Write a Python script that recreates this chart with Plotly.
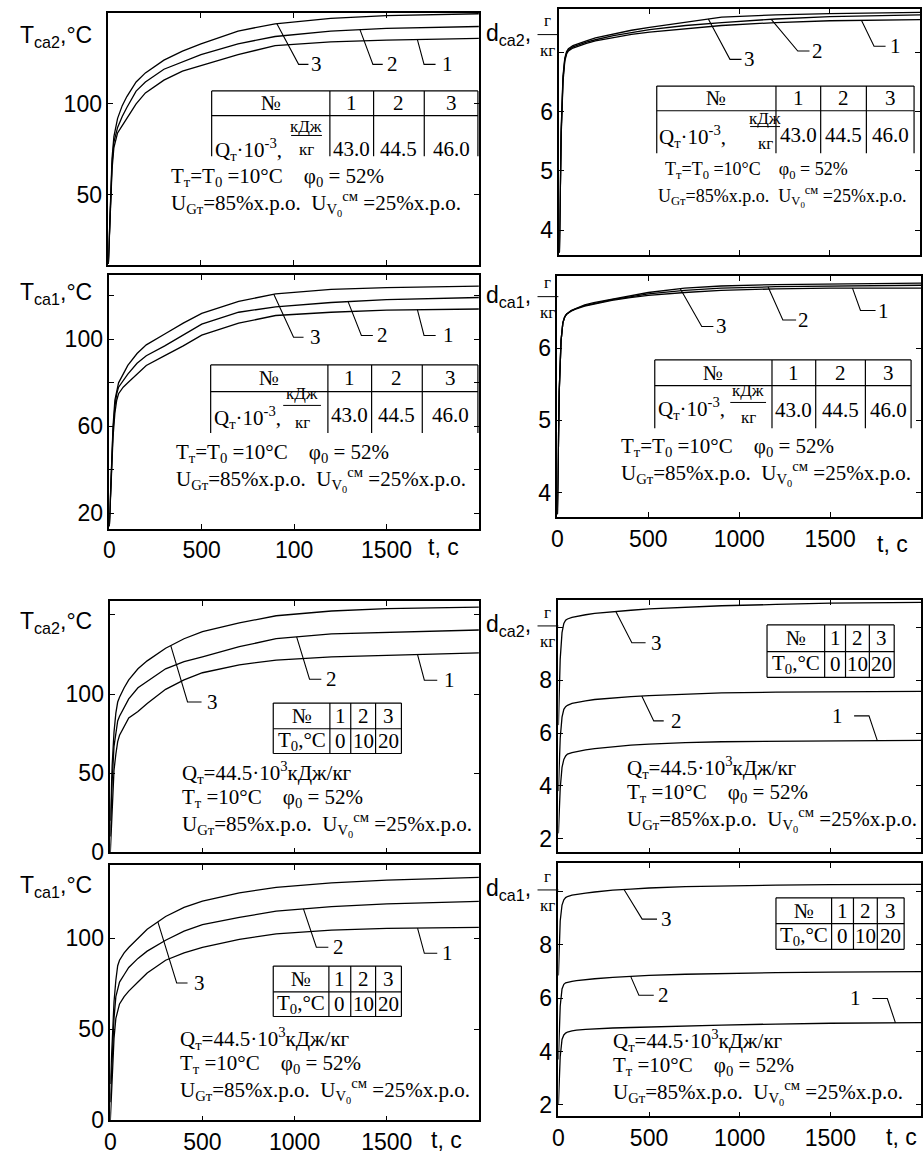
import numpy as np
import plotly.graph_objects as go

W, H = 924, 1164
SERIF = "Liberation Serif"
SANS = "Liberation Sans"
NB = "\u00a0"

# ---------------- data ----------------
T = [0, 5, 10, 20, 30, 40, 50, 75, 100, 150, 200, 300, 400, 500, 700, 900, 1200, 1500, 2000]

# Panel A: T_ca2, Q varied
tca2_q1 = [12, 25, 40, 64, 76, 81, 84, 88, 92, 100, 106, 113, 118, 121, 127, 132, 134, 135, 136]
tca2_q2 = [12, 26, 42, 67, 79, 84, 87, 93, 98, 107, 112, 119, 123, 127, 133, 137, 140, 141.5, 142.5]
tca2_q3 = [12, 27, 44, 70, 82, 88, 92, 99, 104, 112, 117, 124, 129, 133, 140, 144, 147, 148.5, 149.5]
# Panel B: d_ca2, Q varied
dca2_q1 = [3.62, 4.6, 5.6, 6.5, 6.85, 6.97, 7.02, 7.07, 7.10, 7.15, 7.19, 7.25, 7.30, 7.34, 7.40, 7.45, 7.50, 7.53, 7.55]
dca2_q2 = [3.62, 4.6, 5.65, 6.55, 6.88, 6.99, 7.04, 7.09, 7.12, 7.17, 7.21, 7.28, 7.33, 7.38, 7.45, 7.50, 7.56, 7.60, 7.63]
dca2_q3 = [3.62, 4.65, 5.7, 6.6, 6.9, 7.01, 7.06, 7.11, 7.14, 7.19, 7.24, 7.31, 7.37, 7.42, 7.51, 7.59, 7.63, 7.65, 7.67]
# Panel C: T_ca1, Q varied
tca1_q1 = [14, 25, 38, 55, 66, 72, 75, 78, 80, 84, 88, 92.5, 97, 102, 107.5, 111, 112.5, 113.5, 114]
tca1_q2 = [14, 26, 40, 58, 69, 75, 78, 81, 84, 89, 92.5, 97, 102, 107, 112.5, 115, 117, 118.3, 119.3]
tca1_q3 = [14, 27, 42, 60, 72, 77, 80, 84, 88, 93.5, 97.5, 102.5, 107.5, 112, 117.5, 121, 123, 123.8, 124.5]
# Panel D: d_ca1, Q varied
dca1_q1 = [3.7, 4.5, 5.4, 6.1, 6.35, 6.43, 6.47, 6.51, 6.54, 6.58, 6.61, 6.66, 6.70, 6.73, 6.77, 6.80, 6.82, 6.83, 6.83]
dca1_q2 = [3.7, 4.5, 5.4, 6.1, 6.35, 6.43, 6.47, 6.515, 6.545, 6.59, 6.62, 6.67, 6.71, 6.75, 6.80, 6.83, 6.85, 6.86, 6.87]
dca1_q3 = [3.7, 4.5, 5.4, 6.1, 6.35, 6.43, 6.47, 6.52, 6.55, 6.60, 6.63, 6.68, 6.73, 6.77, 6.83, 6.86, 6.88, 6.89, 6.90]
# Panel E: T_ca2, T0 varied
tca2_t1 = [0, 15, 30, 52, 62, 70, 74, 80, 85, 89, 94, 103, 109, 113.5, 118.5, 121.5, 123.5, 124.5, 126]
tca2_t2 = [10, 28, 45, 67, 77, 83, 86, 92, 97, 104, 108, 116, 120.5, 123.5, 130, 135, 138, 139, 140.5]
tca2_t3 = [20, 40, 55, 76, 88, 95, 98, 104, 109, 116, 121, 129, 135, 139.5, 145, 149.5, 152.5, 154, 155]
# Panel F: d_ca2, T0 varied
dca2_t1 = [2.2, 3.0, 3.9, 4.7, 5.0, 5.13, 5.2, 5.26, 5.3, 5.36, 5.41, 5.48, 5.54, 5.58, 5.64, 5.67, 5.69, 5.70, 5.72]
dca2_t2 = [3.8, 4.8, 5.8, 6.6, 6.9, 7.0, 7.05, 7.12, 7.16, 7.22, 7.27, 7.33, 7.38, 7.42, 7.48, 7.52, 7.55, 7.57, 7.58]
dca2_t3 = [6.3, 7.6, 8.8, 9.8, 10.15, 10.27, 10.32, 10.38, 10.42, 10.48, 10.53, 10.6, 10.65, 10.7, 10.77, 10.82, 10.87, 10.92, 10.95]
# Panel G: T_ca1, T0 varied
tca1_t1 = [0, 12, 25, 45, 56, 61, 64, 68, 71, 76, 81, 88, 92, 95, 99.5, 102.5, 104.5, 105.5, 106]
tca1_t2 = [10, 22, 35, 56, 68, 73, 76, 80, 84, 89, 93, 99, 104, 107.5, 111.5, 115, 117.5, 119, 120.3]
tca1_t3 = [20, 32, 45, 65, 77, 85, 88, 92, 95, 100, 105, 112, 117, 120.5, 125, 128, 130.5, 132, 133.5]
# Panel H: d_ca1, T0 varied
dca1_t1 = [2.0, 2.9, 3.8, 4.45, 4.62, 4.69, 4.73, 4.77, 4.8, 4.83, 4.85, 4.88, 4.9, 4.92, 4.96, 4.99, 5.03, 5.06, 5.08]
dca1_t2 = [3.7, 4.8, 5.7, 6.35, 6.52, 6.58, 6.6, 6.63, 6.66, 6.7, 6.73, 6.78, 6.83, 6.86, 6.9, 6.93, 6.96, 6.98, 7.0]
dca1_t3 = [6.85, 8.0, 8.9, 9.5, 9.7, 9.78, 9.82, 9.87, 9.9, 9.95, 9.99, 10.06, 10.1, 10.14, 10.19, 10.22, 10.25, 10.27, 10.28]

X_TICKS = [0, 500, 1000, 1500, 2000]
X_LABELS = ["0", "500", "1000", "1500", ""]
X_LABELS_C = ["0", "500", "100", "1500", ""]

Q_HEADER = ["№", "1", "2", "3"]
Q_VALUES = ["43.0", "44.5", "46.0"]
T0_HEADER = ["№", "1", "2", "3"]
T0_VALUES = ["T<sub>0</sub>,°C", "0", "10", "20"]

LINE_TT = "T<sub>т</sub>=T<sub>0</sub> =10°C" + NB * 4 + "φ<sub>0</sub> = 52%"
LINE_T = "T<sub>т</sub> =10°C" + NB * 4 + "φ<sub>0</sub> = 52%"
LINE_Q = "Q<sub>т</sub>=44.5·10<sup>3</sup>кДж/кг"
LINE_U = ("U<sub>Gт</sub>=85%х.р.о." + NB * 2 + "U<sub>V<sub>0</sub></sub><sup>см</sup>"
          + NB + "=25%х.р.о.")

# ---------------- panel layout (pixels) ----------------
panels = [
    dict(curves=[tca2_q1, tca2_q2, tca2_q3], dom=(103, 476, 13, 268), yr=[11.4, 150],
         yt=[50, 100, 150], yl=["50", "100", ""], xl=None,
         ylab=("T<sub>ca2</sub>,°C", 13, 37),
         leaders=[(1668, 1704, 121.7, 1766, 1829), (1358, 1428, 121.7, 1481, 1535), (909, 1027, 121.7, 1080, 1123)],
         kind="q", table=([207, 326, 370, 421, 475], [92, 117, 158]),
         qlab=(209, 151), frac=(302, 128, 287, 318, 137, 151), valy=151,
         lines=[(LINE_TT, 165, 179), (LINE_U, 165, 206)], fs=21),
    dict(curves=[dca2_q1, dca2_q2, dca2_q3], dom=(557, 920, 9, 258), yr=[3.58, 7.73],
         yt=[4, 5, 6, 7], yl=["4", "5", "6", ""], xl=None,
         dlab=("d<sub>ca2</sub>,", 482, 35),
         leaders=[(1675, 1745, 7.1, 1809, 1864), (1175, 1322, 7.02, 1387, 1433), (826, 946, 6.88, 1010, 1056)],
         kind="q", table=([655, 775, 820, 866, 914], [87, 112, 155]),
         qlab=(656, 138), frac=(764, 120, 749, 779, 128, 145), valy=137,
         lines=[(LINE_TT, 662, 172), (LINE_U, 655, 199)], fs=18),
    dict(curves=[tca1_q1, tca1_q2, tca1_q3], dom=(104, 476, 278, 535), yr=[12.7, 129.7],
         yt=[20, 40, 60, 80, 100, 120], yl=["20", "", "60", "", "100", ""], xl=X_LABELS_C,
         ylab=("T<sub>ca1</sub>,°C", 13, 297), tc=(440, 553),
         leaders=[(1667, 1703, 101.8, 1766, 1837), (1292, 1364, 101.8, 1426, 1480), (890, 997, 101.0, 1051, 1115)],
         kind="q", table=([206, 324, 368, 419, 475], [369, 396, 438]),
         qlab=(208, 422), frac=(298, 398, 279, 317, 410, 427), valy=420,
         lines=[(LINE_TT, 170, 458), (LINE_U, 170, 485)], fs=21),
    dict(curves=[dca1_q1, dca1_q2, dca1_q3], dom=(555, 921, 279, 523), yr=[3.66, 7.0],
         yt=[4, 5, 6], yl=["4", "5", "6"], xl=X_LABELS,
         dlab=("d<sub>ca1</sub>,", 482, 300), tc=(892, 550),
         leaders=[(1623, 1667, 6.52, 1750, 1792), (1159, 1240, 6.39, 1313, 1355), (676, 794, 6.30, 858, 902)],
         kind="q", table=([653, 771, 815, 865, 911], [364, 390, 433]),
         qlab=(655, 413), frac=(747, 395, 729, 765, 407, 422), valy=415,
         lines=[(LINE_TT, 618, 452), (LINE_U, 618, 479)], fs=21),
    dict(curves=[tca2_t1, tca2_t2, tca2_t3], dom=(105, 476, 608, 862), yr=[0, 158.7],
         yt=[0, 50, 100, 150], yl=["0", "50", "100", ""], xl=None,
         ylab=("T<sub>ca2</sub>,°C", 13, 630),
         leaders=[(1667, 1704, 108.8, 1774, 1839), (1011, 1081, 109.4, 1145, 1199), (328, 419, 95, 495, 554)],
         kind="t", table=([269, 326, 347, 372, 398], [711, 737, 762]),
         lines=[(LINE_Q, 176, 781), (LINE_T, 176, 807), (LINE_U, 176, 834)], fs=21),
    dict(curves=[dca2_t1, dca2_t2, dca2_t3], dom=(556, 921, 607, 862), yr=[1.48, 11.03],
         yt=[2, 4, 6, 8, 10], yl=["2", "4", "6", "8", ""], xl=None,
         dlab=("d<sub>ca2</sub>,", 482, 633),
         leaders=[(1759, 1713, 6.65, 1631, 1540), (460, 526, 6.46, 581, 652), (316, 405, 9.42, 481, 542)],
         kind="t", table=([766, 824, 845, 869, 894], [632, 659, 685]),
         lines=[(LINE_Q, 624, 776), (LINE_T, 624, 802), (LINE_U, 624, 829)], fs=21),
    dict(curves=[tca1_t1, tca1_t2, tca1_t3], dom=(105, 476, 875, 1133), yr=[0, 140.2],
         yt=[0, 50, 100], yl=["0", "50", "100"], xl=X_LABELS,
         ylab=("T<sub>ca1</sub>,°C", 13, 897), tc=(443, 1153),
         leaders=[(1667, 1704, 91.8, 1774, 1828), (1048, 1118, 95.1, 1183, 1237), (258, 360, 75.5, 419, 484)],
         kind="t", table=([269, 325, 347, 372, 398], [977, 1003, 1028]),
         lines=[(LINE_Q, 174, 1050), (LINE_T, 174, 1076), (LINE_U, 174, 1103)], fs=21),
    dict(curves=[dca1_t1, dca1_t2, dca1_t3], dom=(556, 921, 873, 1129), yr=[1.56, 11.07],
         yt=[2, 4, 6, 8, 10], yl=["2", "4", "6", "8", ""], xl=X_LABELS,
         dlab=("d<sub>ca1</sub>,", 482, 900), tc=(901, 1150),
         leaders=[(1859, 1814, 5.99, 1732, 1638), (398, 444, 6.11, 526, 581), (362, 462, 8.97, 544, 597)],
         kind="t", table=([775, 831, 853, 877, 904], [908, 934, 960]),
         lines=[(LINE_Q, 610, 1052), (LINE_T, 610, 1078), (LINE_U, 610, 1105)], fs=21),
]


def PX(x):
    return x / W


def PY(y):
    return 1 - y / H


fig = go.Figure()
shapes = []
annots = []


def ann(text, x, y, size, family=SERIF, xanchor="left", yanchor="middle", xref="paper", yref="paper"):
    annots.append(dict(text=text, x=x, y=y, xref=xref, yref=yref, showarrow=False,
                       xanchor=xanchor, yanchor=yanchor, borderpad=0,
                       font=dict(family=family, size=size, color="black")))


def pline(x0, y0, x1, y1, w=1.2):
    shapes.append(dict(type="line", xref="paper", yref="paper", x0=PX(x0), y0=PY(y0), x1=PX(x1), y1=PY(y1),
                       line=dict(color="black", width=w)))


layout_axes = {}
for i, p in enumerate(panels, start=1):
    xs = "" if i == 1 else str(i)
    xa, ya = "x" + xs, "y" + xs
    for c in p["curves"]:
        fig.add_trace(go.Scatter(x=T, y=c, mode="lines", line=dict(color="black", width=1.3),
                                 xaxis=xa, yaxis=ya, showlegend=False, hoverinfo="skip"))
    x0, x1, y0, y1 = p["dom"]
    common = dict(showline=True, linecolor="black", linewidth=1.5, mirror="ticks", ticks="inside",
                  ticklen=5, tickwidth=1, tickcolor="black", showgrid=False, zeroline=False,
                  tickfont=dict(family=SANS, size=23, color="black"), fixedrange=True)
    layout_axes["xaxis" + xs] = dict(common, domain=[PX(x0), PX(x1)], range=[0, 2000], anchor=ya,
                                      tickmode="array", tickvals=X_TICKS,
                                      ticktext=p["xl"] if p["xl"] else [""] * 5,
                                      showticklabels=bool(p["xl"]))
    layout_axes["yaxis" + xs] = dict(common, domain=[PY(y1), PY(y0)], range=p["yr"], anchor=xa,
                                      tickmode="array", tickvals=p["yt"], ticktext=p["yl"])
    # axis titles
    if "ylab" in p:
        t, lx, ly = p["ylab"]
        ann(t, PX(lx), PY(ly), 23, SANS)
    if "dlab" in p:
        t, lx, ly = p["dlab"]
        ann(t, PX(lx), PY(ly), 23, SANS)
        pline(535, ly, 556, ly, 1.0)
        ann("г", PX(545), PY(ly - 14), 17, SERIF, xanchor="center")
        ann("кг", PX(545), PY(ly + 16), 17, SERIF, xanchor="center")
    if "tc" in p:
        ann("t, c", PX(p["tc"][0]), PY(p["tc"][1]), 23, SANS, xanchor="center")
    # leader lines
    for k, (ts, te, ye, tend, tl) in enumerate(p["leaders"]):
        ys = float(np.interp(ts, T, p["curves"][k]))
        shapes.append(dict(type="path", xref=xa, yref=ya,
                           path=f"M{ts},{ys} L{te},{ye} L{tend},{ye}",
                           line=dict(color="black", width=1.1)))
        ann(str(k + 1), tl, ye, 21, SERIF, xanchor="center", xref=xa, yref=ya)
    # tables
    cols, rows = p["table"]
    fs = p["fs"]
    if p["kind"] == "q":
        pline(cols[0], rows[0], cols[-1], rows[0])
        pline(cols[0], rows[1], cols[-1], rows[1])
        for cx in cols:
            pline(cx, rows[0], cx, rows[2])
        hy = (rows[0] + rows[1]) / 2
        ann(Q_HEADER[0], PX((cols[0] + cols[1]) / 2), PY(hy), 21, xanchor="center")
        for j in range(3):
            cx = (cols[j + 1] + cols[j + 2]) / 2
            ann(Q_HEADER[j + 1], PX(cx), PY(hy), 21, xanchor="center")
            ann(Q_VALUES[j], PX(cx), PY(p["valy"]), 21, xanchor="center")
        ann("Q<sub>т</sub>·10<sup>-3</sup>,", PX(p["qlab"][0]), PY(p["qlab"][1]), 21)
        fx, fny, fl0, fl1, fly, fdy = p["frac"]
        ann("кДж", PX(fx), PY(fny), 17, xanchor="center")
        pline(fl0, fly, fl1, fly, 1.0)
        ann("кг", PX(fx), PY(fdy), 17, xanchor="center")
    else:
        for ry in rows:
            pline(cols[0], ry, cols[-1], ry)
        for cx in cols:
            pline(cx, rows[0], cx, rows[2])
        hy = (rows[0] + rows[1]) / 2
        vy = (rows[1] + rows[2]) / 2
        for j in range(4):
            cx = (cols[j] + cols[j + 1]) / 2
            ann(T0_HEADER[j], PX(cx), PY(hy), 21, xanchor="center")
            ann(T0_VALUES[j], PX(cx), PY(vy), 21, xanchor="center")
    # text blocks
    for txt, lx, ly in p["lines"]:
        ann(txt, PX(lx), PY(ly), fs)

fig.update_layout(
    width=W, height=H, margin=dict(l=0, r=0, t=0, b=0),
    paper_bgcolor="white", plot_bgcolor="white",
    showlegend=False, shapes=shapes, annotations=annots, **layout_axes,
)

fig.write_html("out.html", config={"displayModeBar": False},
               post_script="document.body.style.margin='0';document.body.style.overflow='hidden';")
